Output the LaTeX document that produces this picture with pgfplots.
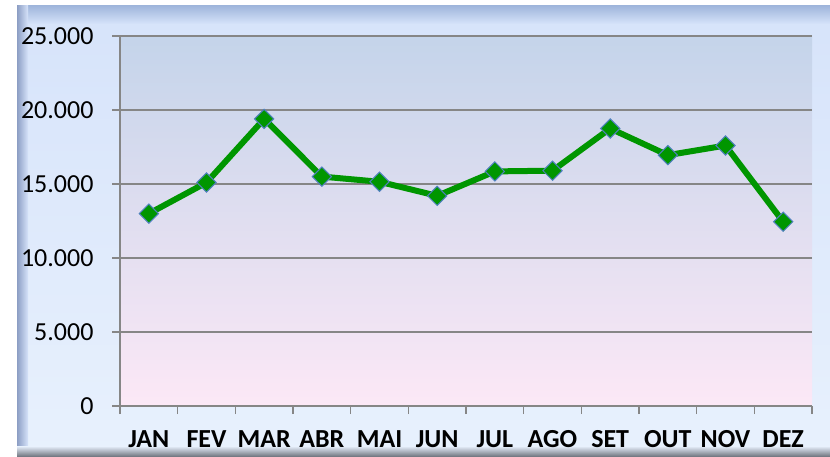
\documentclass[border=0pt]{standalone}
\usepackage{pgfplots}
\pgfplotsset{compat=1.18}
\usepackage{fontspec}
\setmainfont{Carlito}

\definecolor{framebg}{RGB}{214,227,250}
\definecolor{framebgb}{RGB}{232,241,253}
\definecolor{plottop}{RGB}{196,212,234}
\definecolor{plotbot}{RGB}{252,232,246}
\definecolor{gridgray}{RGB}{134,134,134}
\definecolor{linegreen}{RGB}{0,150,0}
\definecolor{edgeblue}{RGB}{79,129,189}

\begin{document}
\begin{tikzpicture}
% outer chart frame, in image pixels (y down)
\begin{scope}[x=1bp,y=-1bp]
  \useasboundingbox (0,0) rectangle (830,457);
  \fill[white] (0,0) rectangle (830,457);
  \shade[top color=framebg, bottom color=framebgb] (17,6) rectangle (830,457);
  \shade[top color={rgb,255:red,160;green,182;blue,220}, middle color={rgb,255:red,236;green,250;blue,255},
         bottom color=framebg] (17,6) rectangle (830,24);
  \shade[left color={rgb,255:red,140;green,158;blue,196}, right color=framebg] (17,6) rectangle (28,447);
  \shade[top color=framebgb, bottom color={rgb,255:red,105;green,110;blue,120}] (17,446) rectangle (830,457);
\end{scope}

\begin{axis}[
  at={(120bp,-406bp)}, anchor=south west,
  scale only axis,
  width=692bp, height=370bp,
  xmin=0.5, xmax=12.5,
  ymin=0, ymax=25000,
  scaled y ticks=false,
  axis x line*=bottom, axis y line*=left,
  axis line style={draw=gridgray, line width=1.5bp, -},
  ytick={0,5000,10000,15000,20000,25000},
  yticklabels={0,5.000,10.000,15.000,20.000,25.000},
  xtick={1,...,12},
  xticklabels={JAN,FEV,MAR,ABR,MAI,JUN,JUL,AGO,SET,OUT,NOV,DEZ},
  minor xtick={0.5,1.5,...,12.5},
  tick align=outside,
  major tick length=8bp, minor tick length=8bp,
  xtick style={draw=none},
  minor x tick style={draw=gridgray, line width=1.5bp},
  ytick style={draw=gridgray, line width=1.5bp},
  ymajorgrids=true,
  major grid style={draw=gridgray, line width=1.5bp},
  yticklabel style={font=\fontsize{26bp}{30bp}\selectfont, xshift=-15bp},
  xticklabel style={font=\fontsize{26bp}{30bp}\selectfont\bfseries, yshift=-13bp},
  axis background/.style={shade, top color=plottop, bottom color=plotbot},
  clip=false,
]
\addplot[color=linegreen, line width=6bp, mark=square*,
  mark size=6.8bp,
  mark options={rotate=45, fill=linegreen, draw=edgeblue, line width=1bp}]
coordinates {
  (1,13000) (2,15100) (3,19400) (4,15500) (5,15150) (6,14200)
  (7,15850) (8,15900) (9,18750) (10,16950) (11,17600) (12,12450)
};
\end{axis}
\end{tikzpicture}
\end{document}
